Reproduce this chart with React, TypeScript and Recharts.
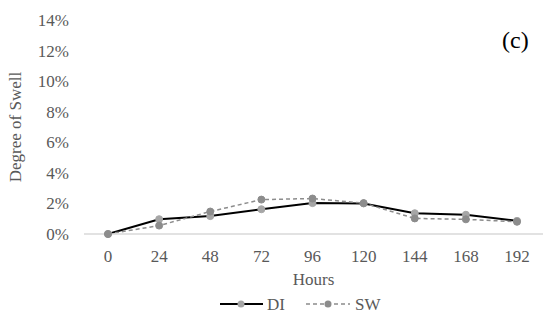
import { LineChart, Line, XAxis, YAxis, Legend } from "recharts";

const hours = ["0", "24", "48", "72", "96", "120", "144", "168", "192"];
const diValues = [0, 0.97, 1.17, 1.62, 2.02, 2.0, 1.36, 1.26, 0.86];
const swValues = [0, 0.55, 1.47, 2.25, 2.32, 2.02, 1.02, 0.96, 0.8];
const yTicks = [0, 2, 4, 6, 8, 10, 12, 14];

const data = hours.map((h, i) => ({ hour: h, DI: diValues[i], SW: swValues[i] }));

const FONT = "Liberation Serif";
const TEXT = "#595959";

function LegendContent() {
  return (
    <svg width={550} height={22}>
      <g>
        <line x1={220} y1={10} x2={263} y2={10} stroke="#000" strokeWidth={2} />
        <circle cx={241} cy={10} r={3.5} fill="#a6a6a6" />
        <text x={267} y={16} fontSize={17} fill={TEXT} fontFamily={FONT}>
          DI
        </text>
      </g>
      <g>
        <line x1={306} y1={10} x2={350} y2={10} stroke="#8c8c8c" strokeWidth={1.5} strokeDasharray="4 3" />
        <circle cx={328} cy={10} r={3.5} fill="#8c8c8c" />
        <text x={355} y={16} fontSize={17} fill={TEXT} fontFamily={FONT}>
          SW
        </text>
      </g>
    </svg>
  );
}

export default function App() {
  return (
    <div style={{ position: "absolute", left: 0, top: 0, width: 550, height: 317, background: "#fff" }}>
      <LineChart width={550} height={317} data={data} margin={{ top: 20, right: 7, left: 0, bottom: 0 }}>
        <XAxis
          dataKey="hour"
          padding={{ left: 24, right: 26 }}
          axisLine={{ stroke: "#d9d9d9", strokeWidth: 1.5 }}
          tickLine={false}
          tickSize={0}
          tickMargin={16}
          height={60}
          tick={{ fontSize: 17, fill: TEXT, fontFamily: FONT }}
          label={{
            value: "Hours",
            position: "insideBottom",
            offset: 9,
            fontSize: 17,
            fill: TEXT,
            fontFamily: FONT,
          }}
        />
        <YAxis
          domain={[0, 14]}
          ticks={yTicks}
          width={84}
          axisLine={false}
          tickLine={false}
          tickSize={0}
          tickMargin={15}
          tickFormatter={(v: number) => `${v}%`}
          tick={{ fontSize: 17, fill: TEXT, fontFamily: FONT }}
          label={{
            value: "Degree of Swell",
            angle: -90,
            position: "insideLeft",
            offset: 15,
            fontSize: 17,
            fill: TEXT,
            fontFamily: FONT,
            textAnchor: "middle",
          }}
        />
        <Legend verticalAlign="bottom" height={23} content={() => <LegendContent />} />
        <Line
          dataKey="DI"
          stroke="#000"
          strokeWidth={2}
          dot={{ r: 3.5, fill: "#a6a6a6", stroke: "#a6a6a6", strokeWidth: 1 }}
          isAnimationActive={false}
        />
        <Line
          dataKey="SW"
          stroke="#8c8c8c"
          strokeWidth={1.5}
          strokeDasharray="4 3"
          dot={{ r: 3.5, fill: "#8c8c8c", stroke: "#8c8c8c", strokeWidth: 1, strokeDasharray: "0" }}
          isAnimationActive={false}
        />
      </LineChart>
      <div style={{ position: "absolute", left: 502, top: 27, fontFamily: "serif", fontSize: 24, color: "#000" }}>
        (c)
      </div>
    </div>
  );
}
